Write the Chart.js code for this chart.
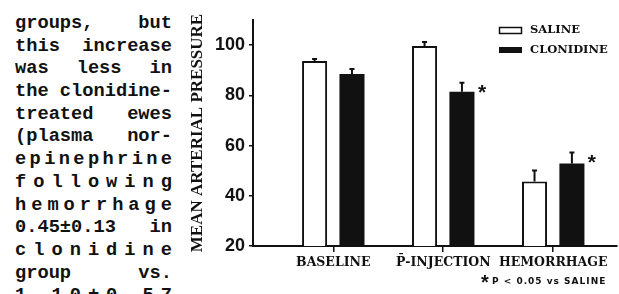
<!DOCTYPE html>
<html>
<head>
<meta charset="utf-8">
<script src="https://cdn.jsdelivr.net/npm/chart.js@4.4.1/dist/chart.umd.min.js"></script>
<style>
  html, body { margin: 0; padding: 0; background: #fff; width: 619px; height: 294px; overflow: hidden; }
  #wrap { position: relative; width: 619px; height: 294px; }
  #chart { position: absolute; left: 0; top: 0; }
  #txt { position: absolute; left: 15px; top: 12px; width: 157px;
         font: bold 18.7px "Liberation Mono", monospace; color: #111; }
  .ln { height: 22.7px; line-height: 22.7px; white-space: nowrap;
        display: flex; justify-content: space-between; }
</style>
</head>
<body>
<div id="wrap">
  <div id="txt"></div>
  <canvas id="chart" width="619" height="294"></canvas>
</div>
<script>
'use strict';

// ─── DATA ────────────────────────────────────────────────────

const CATEGORIES   = ['BASELINE', 'P\u0304-INJECTION', 'HEMORRHAGE'];
const SALINE       = [93.7, 99.6, 45.7];
const SALINE_SE    = [0.8, 1.6, 4.4];
const CLONIDINE    = [88.5, 81.4, 52.9];
const CLONIDINE_SE = [2.0, 3.6, 4.3];
const CLONIDINE_SIG = [false, true, true];
const Y_TICKS      = [20, 40, 60, 80, 100];

const TEXT_LINES = [
  'groups, but', 'this increase', 'was less in', 'the clonidine-',
  'treated ewes', '(plasma nor-', 'epinephrine', 'following',
  'hemorrhage', '0.45\u00b10.13 in', 'clonidine', 'group vs.', '1.10\u00b10.57'
];

const INK = '#111';

// ─── SIDE TEXT (justified column) ────────────────────────────

const txt = document.getElementById('txt');
TEXT_LINES.forEach(line => {
  const div = document.createElement('div');
  div.className = 'ln';
  const parts = line.includes(' ') ? line.split(' ') : line.split('');
  parts.forEach(p => {
    const s = document.createElement('span');
    s.textContent = p;
    div.appendChild(s);
  });
  txt.appendChild(div);
});

// ─── PLUGINS ─────────────────────────────────────────────────

const errorBars = {
  id: 'errorBars',
  afterDatasetsDraw(chart) {
    const { ctx } = chart;
    const y = chart.scales.y;
    chart.data.datasets.forEach((ds, di) => {
      const meta = chart.getDatasetMeta(di);
      meta.data.forEach((bar, i) => {
        const top = y.getPixelForValue(ds.data[i].y + ds.se[i]);
        ctx.save();
        ctx.strokeStyle = INK;
        ctx.lineWidth = 2;
        ctx.beginPath();
        ctx.moveTo(bar.x, bar.y);
        ctx.lineTo(bar.x, top);
        ctx.moveTo(bar.x - 2.5, top);
        ctx.lineTo(bar.x + 2.5, top);
        ctx.stroke();
        if (ds.sig && ds.sig[i]) {
          ctx.fillStyle = INK;
          ctx.font = 'bold 21px "Liberation Sans"';
          ctx.textAlign = 'center';
          ctx.textBaseline = 'alphabetic';
          ctx.fillText('*', bar.x + bar.width / 2 + 7.5, top + 16);
        }
        ctx.restore();
      });
    });
  }
};

const legendNote = {
  id: 'legendNote',
  afterDraw(chart) {
    const { ctx } = chart;
    const [sal, clo] = chart.data.datasets;
    ctx.save();
    ctx.strokeStyle = INK;
    ctx.fillStyle = INK;
    ctx.lineWidth = 1.5;
    ctx.strokeRect(499.5, 27.5, 22, 6);
    ctx.fillRect(499, 47, 23, 6);
    ctx.font = 'bold 11.5px "DejaVu Serif"';
    ctx.textBaseline = 'middle';
    ctx.textAlign = 'left';
    ctx.fillText(sal.label, 530, 30.5);
    ctx.fillText(clo.label, 530, 50);

    // footnote
    ctx.font = 'bold 20px "Liberation Sans"';
    ctx.textAlign = 'center';
    ctx.textBaseline = 'alphabetic';
    ctx.fillText('*', 485, 289);
    ctx.font = 'bold 9px "DejaVu Sans"';
    ctx.letterSpacing = '1px';
    ctx.textAlign = 'left';
    ctx.textBaseline = 'middle';
    ctx.fillText('P < 0.05 vs SALINE', 492, 282);
    ctx.restore();
  }
};

// ─── CHART ───────────────────────────────────────────────────

new Chart(document.getElementById('chart'), {
  type: 'bar',
  data: {
    datasets: [
      {
        label: 'SALINE',
        data: SALINE.map((v, i) => ({ x: i + 1, y: v })),
        se: SALINE_SE,
        backgroundColor: '#fff',
        borderColor: INK,
        borderWidth: 2,
      },
      {
        label: 'CLONIDINE',
        data: CLONIDINE.map((v, i) => ({ x: i + 1, y: v })),
        se: CLONIDINE_SE,
        sig: CLONIDINE_SIG,
        backgroundColor: INK,
        borderColor: INK,
        borderWidth: 0,
      }
    ]
  },
  options: {
    responsive: false,
    animation: false,
    devicePixelRatio: 1,
    categoryPercentage: 0.68,
    barPercentage: 0.67,
    layout: { padding: { left: 185, top: 20, right: 2, bottom: 0 } },
    plugins: {
      legend: { display: false },
      tooltip: { enabled: false }
    },
    scales: {
      x: {
        type: 'linear',
        offset: false,
        min: 0.27,
        max: 3.58,
        afterBuildTicks: s => { s.ticks = CATEGORIES.map((_, i) => ({ value: i + 1 })); },
        afterFit: s => { s.height = 48; },
        ticks: {
          callback: v => CATEGORIES[v - 1],
          font: { family: 'DejaVu Serif', weight: 'bold', size: 12.5 },
          color: INK,
          padding: 3,
          maxRotation: 0,
          autoSkip: false
        },
        grid: { drawOnChartArea: false, offset: false, tickLength: 6, color: INK, lineWidth: 1.5 },
        border: { color: INK, width: 2 }
      },
      y: {
        min: 20,
        max: 110,
        afterBuildTicks: s => { s.ticks = Y_TICKS.map(v => ({ value: v })); },
        afterFit: s => { s.width = 68; },
        ticks: {
          font: { family: 'Liberation Sans', weight: 'bold', size: 18 },
          color: INK,
          padding: 4
        },
        grid: { drawOnChartArea: false, tickLength: 4, color: INK, lineWidth: 1.5 },
        border: { color: INK, width: 2 },
        title: {
          display: true,
          text: 'MEAN ARTERIAL PRESSURE',
          font: { family: 'Liberation Serif', weight: 'bold', size: 17 },
          color: INK,
          padding: { top: 2, bottom: 0 }
        }
      }
    }
  },
  plugins: [errorBars, legendNote]
});
</script>
</body>
</html>
